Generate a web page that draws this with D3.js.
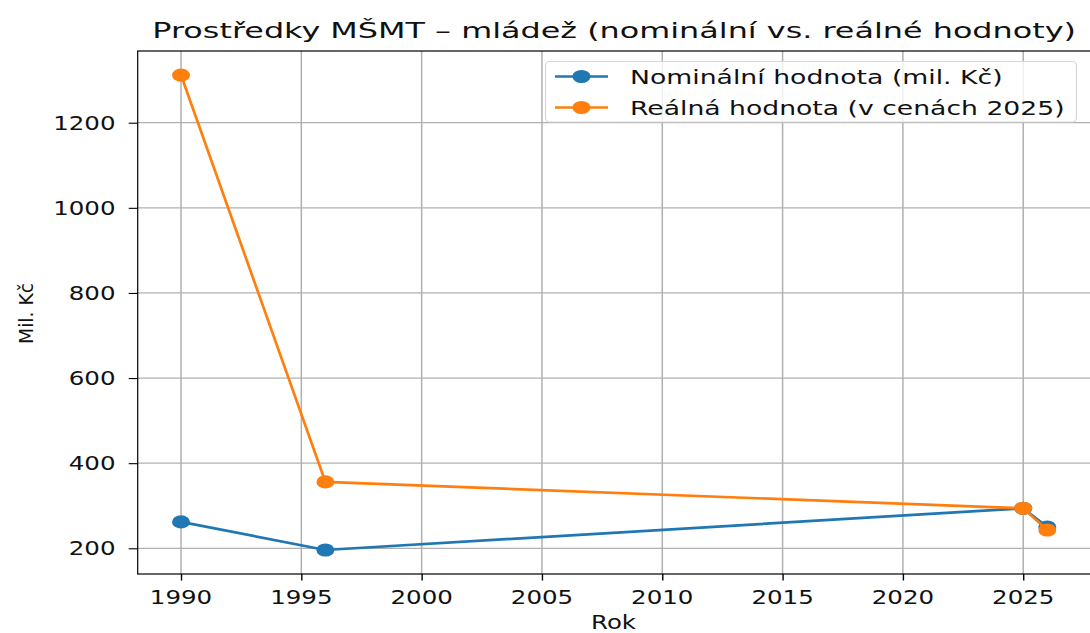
<!DOCTYPE html>
<html>
<head>
<meta charset="utf-8">
<script src="https://cdn.jsdelivr.net/npm/d3@7"></script>
<style>
body { margin: 0; background: #fff; }
svg { display: block; font-family: 'DejaVu Sans', sans-serif; }
</style>
</head>
<body>
<div id="graph"></div>
<script>
var years = [1990, 1996, 2025, 2026]
var nominal = [262, 196, 294, 250]
var real = [1312, 356, 294, 243]
var xTicks = [1990, 1995, 2000, 2005, 2010, 2015, 2020, 2025]
var yTicks = [200, 400, 600, 800, 1000, 1200]
var seriesNames = ['Nominální hodnota (mil. Kč)', 'Reálná hodnota (v cenách 2025)']
var colors = ['#1f77b4', '#ff7f0e']

var width = 1090
var height = 633
// picture is stretched horizontally, so text is widened with k
var k = 1.29
var mLeft = 137.7, mRight = 1090.6, mTop = 51, mBottom = 574

var svg = d3.select('#graph').append('svg')
	.attr('width', width)
	.attr('height', height)

var xScale = d3.scaleLinear()
	.domain([1988.2, 2027.8])
	.range([mLeft, mRight])

var yScale = d3.scaleLinear()
	.domain([139.6, 1368.5])
	.range([mBottom, mTop])

function label(g, x, y, txt, size, anchor, rot, targetW) {
	var t = g.append('text')
		.attr('text-anchor', anchor)
		.attr('font-size', size)
		.attr('fill', '#111')
		.text(txt)
	var s = k
	if (targetW) s = targetW / t.node().getComputedTextLength()
	var tr = 'translate(' + x + ',' + y + ')'
	if (rot) tr += ' rotate(' + rot + ') scale(' + s + ',1)'
	else tr += ' scale(' + s + ',1)'
	t.attr('transform', tr)
	return t
}

// grid
svg.append('g').selectAll('line')
	.data(xTicks)
	.enter().append('line')
	.attr('x1', function(d) { return xScale(d) })
	.attr('x2', function(d) { return xScale(d) })
	.attr('y1', mTop).attr('y2', mBottom)
	.attr('stroke', '#b0b0b0').attr('stroke-width', 1.5)

svg.append('g').selectAll('line')
	.data(yTicks)
	.enter().append('line')
	.attr('y1', function(d) { return yScale(d) })
	.attr('y2', function(d) { return yScale(d) })
	.attr('x1', mLeft).attr('x2', mRight)
	.attr('stroke', '#b0b0b0').attr('stroke-width', 1.2)

// axes
var xAxis = svg.append('g')
	.attr('transform', 'translate(0,' + mBottom + ')')
	.call(d3.axisBottom(xScale).tickValues(xTicks).tickSize(6.5).tickFormat(''))
xAxis.select('.domain').remove()
xAxis.selectAll('line').attr('stroke', '#000').attr('stroke-width', 1.4)

var yAxis = svg.append('g')
	.attr('transform', 'translate(' + mLeft + ',0)')
	.call(d3.axisLeft(yScale).tickValues(yTicks).tickSize(9).tickFormat(''))
yAxis.select('.domain').remove()
yAxis.selectAll('line').attr('stroke', '#000').attr('stroke-width', 1.1)

xTicks.forEach(function(d) {
	label(svg, xScale(d), 603.5, d, 19, 'middle')
})
yTicks.forEach(function(d) {
	label(svg, 115.5, yScale(d) + 7, d, 19, 'end')
})

// spines
svg.append('rect')
	.attr('x', mLeft).attr('y', mTop)
	.attr('width', mRight - mLeft).attr('height', mBottom - mTop)
	.attr('fill', 'none').attr('stroke', '#000').attr('stroke-width', 1.2)

// series
var line = d3.line()
	.x(function(d) { return xScale(d[0]) })
	.y(function(d) { return yScale(d[1]) })

;[nominal, real].forEach(function(vals, i) {
	var pts = years.map(function(y, j) { return [y, vals[j]] })
	svg.append('path')
		.datum(pts)
		.attr('d', line)
		.attr('fill', 'none')
		.attr('stroke', colors[i])
		.attr('stroke-width', 2.7)
	svg.append('g').selectAll('ellipse')
		.data(pts)
		.enter().append('ellipse')
		.attr('cx', function(d) { return xScale(d[0]) })
		.attr('cy', function(d) { return yScale(d[1]) })
		.attr('rx', 9)
		.attr('ry', 6.6)
		.attr('fill', colors[i])
})

// title and axis labels
label(svg, (mLeft + mRight) / 2, 37.5, 'Prostředky MŠMT – mládež (nominální vs. reálné hodnoty)', 21, 'middle', 0, 924)
label(svg, 613.5, 629, 'Rok', 19, 'middle', 0, 45)
label(svg, 32.5, 313.5, 'Mil. Kč', 19, 'middle', -90, 61)

// legend
var legend = svg.append('g')
legend.append('rect')
	.attr('x', 545.5).attr('y', 61.5)
	.attr('width', 531).attr('height', 60.5)
	.attr('rx', 4)
	.attr('fill', 'rgba(255,255,255,0.8)')
	.attr('stroke', '#d6d6d6').attr('stroke-width', 1.2)

var legendW = [373, 435]
seriesNames.forEach(function(name, i) {
	var y = 76.5 + i * 31
	legend.append('line')
		.attr('x1', 555).attr('x2', 608)
		.attr('y1', y).attr('y2', y)
		.attr('stroke', colors[i]).attr('stroke-width', 2.7)
	legend.append('ellipse')
		.attr('cx', 581.5).attr('cy', y)
		.attr('rx', 9).attr('ry', 6.6)
		.attr('fill', colors[i])
	label(legend, 630, y + 7, name, 19, 'start', 0, legendW[i])
})
</script>
</body>
</html>
